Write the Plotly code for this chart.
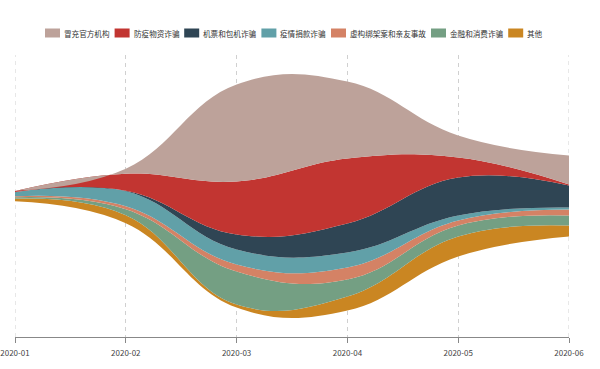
import plotly.graph_objects as go

months = ['2020-01', '2020-02', '2020-03', '2020-04', '2020-05', '2020-06']
names = ['冒充官方机构', '防疫物资诈骗', '机票和包机诈骗', '疫情捐款诈骗',
         '虚构绑架案和亲友事故', '金融和消费诈骗', '其他']
colors = ['#bda29a', '#c23531', '#2f4554', '#61a0a8', '#d48265', '#749f83', '#ca8622']

v_official = [0.3, 5, 97, 77, 22, 29]
v_supplies = [1, 17, 53, 65, 20, 1]
v_ticket = [0.3, 0.5, 15, 29, 38, 22]
v_donation = [4, 15, 15, 15, 5, 2]
v_kidnap = [1, 3, 7, 12, 5, 6]
v_finance = [1.5, 6, 33, 17, 11, 10]
v_other = [2.5, 8, 3, 14, 20, 11]

series = [v_official, v_supplies, v_ticket, v_donation, v_kidnap, v_finance, v_other]

n = len(months)
totals = [sum(s[i] for s in series) for i in range(n)]
base = [-t / 2 for t in totals]

fig = go.Figure()
fig.add_trace(go.Scatter(x=months, y=base, mode='lines',
                         line=dict(width=0, shape='spline', smoothing=1.2),
                         showlegend=False, hoverinfo='skip'))
cum = base[:]
for name, color, vals in reversed(list(zip(names, colors, series))):
    cum = [c + v for c, v in zip(cum, vals)]
    fig.add_trace(go.Scatter(x=months, y=cum, mode='lines', name=name,
                             line=dict(width=0, shape='spline', smoothing=1.2, color=color),
                             fill='tonexty', fillcolor=color, showlegend=False))

W, H = 600, 369
L, T = 15, 55
pw, ph = 554, 282
R, B = W - L - pw, H - T - ph

# custom legend (ECharts-like, single row)
font_size = 7.6
sym_w, sym_h, txt_gap, item_gap = 15, 9, 3, 6
x = 45
ly = 33
shapes = []
annotations = []
for name, color in zip(names, colors):
    shapes.append(dict(type='rect', xref='paper', yref='paper',
                       x0=(x - L) / pw, x1=(x + sym_w - L) / pw,
                       y0=(H - B - ly - sym_h / 2) / ph, y1=(H - B - ly + sym_h / 2) / ph,
                       fillcolor=color, line=dict(width=0)))
    tx = x + sym_w + txt_gap
    annotations.append(dict(text=name, xref='paper', yref='paper',
                            x=(tx - L - 1) / pw, y=(H - B - ly) / ph,
                            xanchor='left', yanchor='middle', showarrow=False,
                            font=dict(size=font_size, color='#333')))
    x = tx + len(name) * font_size + item_gap

# dashed grid lines at both ends of the axis (Plotly drops edge grid lines)
for idx in (0, n - 1):
    shapes.append(dict(type='line', xref='x', yref='paper', x0=idx, x1=idx, y0=0, y1=1,
                       layer='below', line=dict(color='#d0d0d0', width=1, dash='4px,4px')))

fig.update_layout(
    width=W, height=H,
    margin=dict(l=L, r=R, t=T, b=B, autoexpand=False),
    paper_bgcolor='white', plot_bgcolor='white',
    font=dict(family='Noto Sans CJK SC, sans-serif', color='#333'),
    shapes=shapes, annotations=annotations,
    xaxis=dict(type='category', range=[0, n - 1], showgrid=True, gridcolor='#d0d0d0',
               griddash='4px,4px', gridwidth=1, showline=True, linecolor='#888',
               ticks='outside', ticklen=5, tickcolor='#888', automargin=False,
               ticklabelstandoff=3,
               tickfont=dict(size=8, color='#444'), zeroline=False, fixedrange=True),
    yaxis=dict(visible=False, range=[-ph / 2, ph / 2], fixedrange=True, automargin=False),
)

fig.write_html('out.html', config={'displayModeBar': False},
               post_script="document.body.style.margin='0';")
